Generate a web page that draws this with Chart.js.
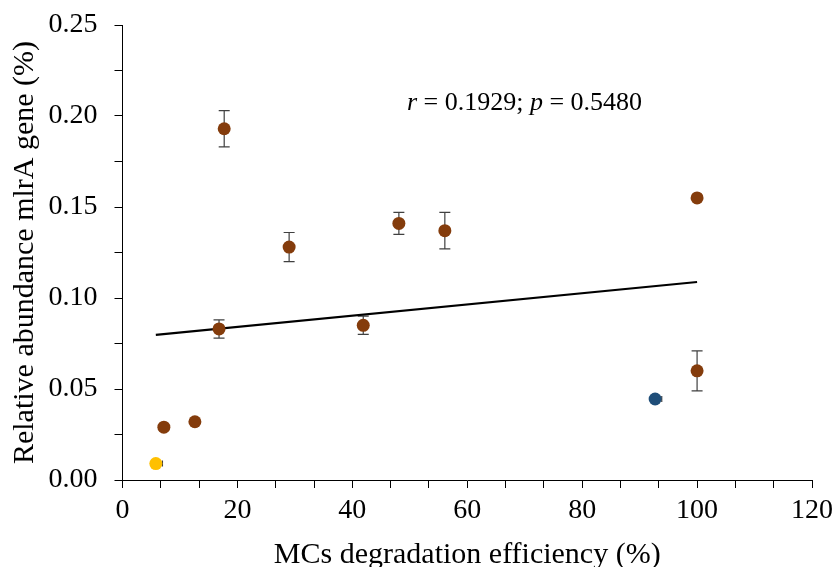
<!DOCTYPE html>
<html>
<head>
<meta charset="utf-8">
<script src="https://cdn.jsdelivr.net/npm/chart.js@4.4.0/dist/chart.umd.min.js"></script>
<style>
  html, body { margin: 0; padding: 0; background: #fff; }
  #wrap { width: 835px; height: 567px; }
</style>
</head>
<body>
<div id="wrap"><canvas id="myChart" width="835" height="567"></canvas></div>
<script>
// MCs degradation efficiency (%) vs relative abundance of mlrA gene (%)
const efficiency   = [7.2, 12.6, 16.8, 17.7, 29.0, 41.9, 48.1, 56.1, 100, 100];
const abundance    = [0.029, 0.032, 0.083, 0.193, 0.128, 0.085, 0.141, 0.137, 0.155, 0.060];
const abundanceErr = [0, 0, 0.005, 0.010, 0.008, 0.005, 0.006, 0.010, 0, 0.011];

const yellowX = [5.8];
const yellowY = [0.009];
const yellowXErr = [1.15];   // only the + side shows

const blueX = [92.7];
const blueY = [0.0445];
const blueXErr = [1.15];

// linear fit
const trendX = [5.8, 100];
const trendY = [0.0797, 0.1088];

const xMajor = [0, 20, 40, 60, 80, 100, 120];
const yMajor = [0, 0.05, 0.10, 0.15, 0.20, 0.25];
const xMinorPerMajor = 3;
const yMinorPerMajor = 2;

const statText = [['r', true], [' = 0.1929; ', false], ['p', true], [' = 0.5480', false]];

function toPoints(xs, ys) {
  return xs.map((v, i) => ({ x: v, y: ys[i] }));
}

function withMinor(major, n) {
  const out = [];
  for (let i = 0; i < major.length; i++) {
    out.push(major[i]);
    if (i < major.length - 1) {
      const step = (major[i + 1] - major[i]) / n;
      for (let k = 1; k < n; k++) out.push(major[i] + step * k);
    }
  }
  return out;
}

function isMajor(v, major) {
  return major.some(m => Math.abs(m - v) < 1e-9);
}

const serif = "'Liberation Serif', 'Times New Roman', serif";

const errorBars = {
  id: 'errorBars',
  beforeDatasetsDraw(chart) {
    const { ctx, scales: { x, y } } = chart;
    ctx.save();
    ctx.strokeStyle = '#404040';
    ctx.lineWidth = 1.2;
    const cap = 5.5;
    chart.data.datasets.forEach(ds => {
      if (!ds.yErr && !ds.xErrPlus) return;
      ds.data.forEach((p, i) => {
        const px = x.getPixelForValue(p.x);
        const py = y.getPixelForValue(p.y);
        if (ds.yErr && ds.yErr[i]) {
          const t = y.getPixelForValue(p.y + ds.yErr[i]);
          const b = y.getPixelForValue(p.y - ds.yErr[i]);
          ctx.beginPath();
          ctx.moveTo(px, t); ctx.lineTo(px, b);
          ctx.moveTo(px - cap, t); ctx.lineTo(px + cap, t);
          ctx.moveTo(px - cap, b); ctx.lineTo(px + cap, b);
          ctx.stroke();
        }
        if (ds.xErrPlus && ds.xErrPlus[i]) {
          const r = x.getPixelForValue(p.x + ds.xErrPlus[i]);
          ctx.beginPath();
          ctx.moveTo(px, py); ctx.lineTo(r, py);
          ctx.moveTo(r, py - 3); ctx.lineTo(r, py + 3);
          ctx.stroke();
        }
      });
    });
    ctx.restore();
  }
};

const statLabel = {
  id: 'statLabel',
  afterDraw(chart) {
    const { ctx, scales: { x, y } } = chart;
    ctx.save();
    ctx.fillStyle = '#000';
    ctx.textBaseline = 'middle';
    let px = x.getPixelForValue(49.5);
    const py = y.getPixelForValue(0.207);
    statText.forEach(([txt, italic]) => {
      ctx.font = (italic ? 'italic ' : '') + '26px ' + serif;
      ctx.fillText(txt, px, py);
      px += ctx.measureText(txt).width;
    });
    ctx.restore();
  }
};

const ctx = document.getElementById('myChart').getContext('2d');
const myChart = new Chart(ctx, {
  type: 'scatter',
  data: {
    datasets: [
      {
        label: 'brown',
        data: toPoints(efficiency, abundance),
        yErr: abundanceErr,
        pointRadius: 6.5,
        pointHoverRadius: 6.5,
        backgroundColor: '#843C0C',
        borderColor: '#843C0C',
        borderWidth: 0
      },
      {
        label: 'yellow',
        data: toPoints(yellowX, yellowY),
        xErrPlus: yellowXErr,
        pointRadius: 6.5,
        backgroundColor: '#FFC000',
        borderColor: '#FFC000',
        borderWidth: 0
      },
      {
        label: 'blue',
        data: toPoints(blueX, blueY),
        xErrPlus: blueXErr,
        pointRadius: 6.5,
        backgroundColor: '#1F4E79',
        borderColor: '#1F4E79',
        borderWidth: 0
      },
      {
        label: 'fit',
        data: toPoints(trendX, trendY),
        showLine: true,
        pointRadius: 0,
        borderColor: '#000',
        borderWidth: 2.2,
        fill: false
      }
    ]
  },
  options: {
    responsive: false,
    animation: false,
    devicePixelRatio: 1,
    layout: { padding: { top: 25, right: 23, bottom: 0, left: 0 } },
    plugins: {
      legend: { display: false },
      tooltip: { enabled: false }
    },
    scales: {
      x: {
        type: 'linear',
        min: 0,
        max: 120,
        afterBuildTicks: s => { s.ticks = withMinor(xMajor, xMinorPerMajor).map(v => ({ value: v })); },
        afterFit: s => { s.height = 87; s.paddingLeft = 0; s.paddingRight = 0; },
        grid: { drawOnChartArea: false, drawTicks: true, tickLength: 8, color: '#000', tickColor: '#000' },
        border: { display: true, color: '#000', width: 1 },
        ticks: {
          autoSkip: false,
          maxRotation: 0,
          padding: 6,
          color: '#000',
          font: { family: serif, size: 28 },
          callback: v => isMajor(v, xMajor) ? String(Math.round(v)) : ''
        },
        title: {
          display: true,
          text: 'MCs degradation efficiency (%)',
          color: '#000',
          font: { family: serif, size: 30, lineHeight: 1 },
          padding: { top: 0, bottom: -3 }
        }
      },
      y: {
        type: 'linear',
        min: 0,
        max: 0.25,
        afterBuildTicks: s => { s.ticks = withMinor(yMajor, yMinorPerMajor).map(v => ({ value: v })); },
        afterFit: s => { s.width = 122.5; s.paddingTop = 0; s.paddingBottom = 0; },
        grid: { drawOnChartArea: false, drawTicks: true, tickLength: 8, color: '#000', tickColor: '#000' },
        border: { display: true, color: '#000', width: 1 },
        ticks: {
          autoSkip: false,
          padding: 17,
          color: '#000',
          font: { family: serif, size: 28 },
          callback: v => isMajor(v, yMajor) ? v.toFixed(2) : ''
        },
        title: {
          display: true,
          text: 'Relative abundance mlrA gene (%)',
          color: '#000',
          font: { family: serif, size: 30, lineHeight: 1.2 },
          padding: { top: 7, bottom: 0 }
        }
      }
    }
  },
  plugins: [errorBars, statLabel]
});
</script>
</body>
</html>
